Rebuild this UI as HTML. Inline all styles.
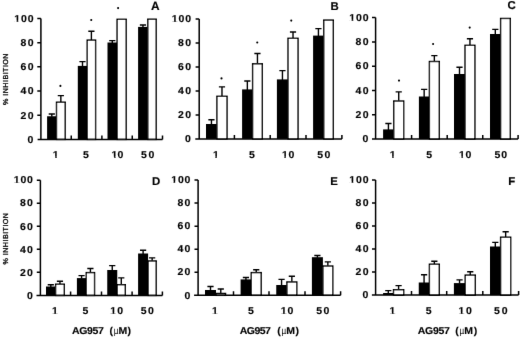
<!DOCTYPE html><html><head><meta charset="utf-8"><title>AG957 inhibition</title><style>html,body{margin:0;padding:0;background:#fff}svg{display:block}</style></head><body><svg width="520" height="338" viewBox="0 0 520 338">
<defs><filter id="soft" x="0" y="0" width="520" height="338" filterUnits="userSpaceOnUse"><feConvolveMatrix order="3" kernelMatrix="0 1 0 1 14 1 0 1 0" divisor="18" edgeMode="duplicate" preserveAlpha="false"/></filter><filter id="soft2" x="0" y="0" width="520" height="338" filterUnits="userSpaceOnUse"><feConvolveMatrix order="3" kernelMatrix="0 1 0 1 12 1 0 1 0" divisor="16" edgeMode="duplicate" preserveAlpha="false"/></filter></defs>
<rect width="520" height="338" fill="#fff"/>
<g filter="url(#soft)" fill="#000" stroke="none">
<g><rect x="47.1" y="116.25" width="9.4" height="23.15" fill="#000"/><path d="M51.8 116.75V114M48.7 114H54.9" stroke="#000" stroke-width="1.4" fill="none"/><rect x="56.5" y="102.2" width="8.7" height="37.2" fill="#fff" stroke="#000" stroke-width="1.4"/><path d="M60.85 102V95.6M57.75 95.6H63.95" stroke="#000" stroke-width="1.4" fill="none"/><rect x="77.8" y="65.9" width="9.4" height="73.5" fill="#000"/><path d="M82.5 66.4V61.6M79.4 61.6H85.6" stroke="#000" stroke-width="1.4" fill="none"/><rect x="87.2" y="40.1" width="8.4" height="99.3" fill="#fff" stroke="#000" stroke-width="1.4"/><path d="M91.4 39.9V31.25M88.3 31.25H94.5" stroke="#000" stroke-width="1.4" fill="none"/><rect x="107.5" y="42.5" width="9.6" height="96.9" fill="#000"/><path d="M112.3 43V40.6M109.2 40.6H115.4" stroke="#000" stroke-width="1.4" fill="none"/><rect x="117.1" y="19.3" width="9.1" height="120.1" fill="#fff" stroke="#000" stroke-width="1.4"/><rect x="138.1" y="26.9" width="9.7" height="112.5" fill="#000"/><path d="M142.95 27.4V25M139.85 25H146.05" stroke="#000" stroke-width="1.4" fill="none"/><rect x="147.8" y="19.2" width="8.4" height="120.2" fill="#fff" stroke="#000" stroke-width="1.4"/><path d="M40.9 18.5V139.4M37.6 139.4H162.5M37.3 18.5H40.9M37.3 42.68H40.9M37.3 66.86H40.9M37.3 91.04H40.9M37.3 115.22H40.9M71.25 139.4V135.4M101.9 139.4V135.4M132.25 139.4V135.4M162.5 139.4V135.4" stroke="#000" stroke-width="1.5" fill="none"/><circle cx="60.4" cy="85.9" r="1.05"/><circle cx="91.25" cy="20" r="1.05"/><circle cx="118.1" cy="8.1" r="1.05"/></g>
<g><rect x="206" y="124" width="10.9" height="14.9" fill="#000"/><path d="M211.45 124.5V119.75M208.35 119.75H214.55" stroke="#000" stroke-width="1.4" fill="none"/><rect x="216.9" y="96.3" width="10.15" height="42.6" fill="#fff" stroke="#000" stroke-width="1.4"/><path d="M221.98 96.1V86.9M218.88 86.9H225.08" stroke="#000" stroke-width="1.4" fill="none"/><rect x="242.1" y="89.4" width="10.5" height="49.5" fill="#000"/><path d="M247.35 89.9V81M244.25 81H250.45" stroke="#000" stroke-width="1.4" fill="none"/><rect x="252.6" y="63.8" width="9.7" height="75.1" fill="#fff" stroke="#000" stroke-width="1.4"/><path d="M257.45 63.6V53.5M254.35 53.5H260.55" stroke="#000" stroke-width="1.4" fill="none"/><rect x="276.9" y="79.4" width="11.1" height="59.5" fill="#000"/><path d="M282.45 79.9V70.6M279.35 70.6H285.55" stroke="#000" stroke-width="1.4" fill="none"/><rect x="288" y="38.3" width="10.05" height="100.6" fill="#fff" stroke="#000" stroke-width="1.4"/><path d="M293.02 38.1V32M289.92 32H296.12" stroke="#000" stroke-width="1.4" fill="none"/><rect x="313.1" y="35.6" width="10.65" height="103.3" fill="#000"/><path d="M318.43 36.1V28.6M315.32 28.6H321.53" stroke="#000" stroke-width="1.4" fill="none"/><rect x="323.75" y="20.1" width="9.55" height="118.8" fill="#fff" stroke="#000" stroke-width="1.4"/><path d="M199.2 19V138.9M195.3 138.9H341.9M195.6 19H199.2M195.6 42.98H199.2M195.6 66.96H199.2M195.6 90.94H199.2M195.6 114.92H199.2M234.4 138.9V134.9M270.2 138.9V134.9M306 138.9V134.9M341.9 138.9V134.9" stroke="#000" stroke-width="1.5" fill="none"/><circle cx="221.5" cy="78.4" r="1.05"/><circle cx="257.25" cy="42.5" r="1.05"/><circle cx="291.25" cy="20.6" r="1.05"/></g>
<g><rect x="383.1" y="129.4" width="10.65" height="9.6" fill="#000"/><path d="M388.43 129.9V123.5M385.32 123.5H391.53" stroke="#000" stroke-width="1.4" fill="none"/><rect x="393.75" y="101" width="9.95" height="38" fill="#fff" stroke="#000" stroke-width="1.4"/><path d="M398.73 100.8V91.9M395.62 91.9H401.83" stroke="#000" stroke-width="1.4" fill="none"/><rect x="418.9" y="96.5" width="10.5" height="42.5" fill="#000"/><path d="M424.15 97V89.4M421.05 89.4H427.25" stroke="#000" stroke-width="1.4" fill="none"/><rect x="429.4" y="61.5" width="9.9" height="77.5" fill="#fff" stroke="#000" stroke-width="1.4"/><path d="M434.35 61.3V55.6M431.25 55.6H437.45" stroke="#000" stroke-width="1.4" fill="none"/><rect x="454" y="74" width="11" height="65" fill="#000"/><path d="M459.5 74.5V67.25M456.4 67.25H462.6" stroke="#000" stroke-width="1.4" fill="none"/><rect x="465" y="45.3" width="9.9" height="93.7" fill="#fff" stroke="#000" stroke-width="1.4"/><path d="M469.95 45.1V38.75M466.85 38.75H473.05" stroke="#000" stroke-width="1.4" fill="none"/><rect x="490" y="34" width="10.6" height="105" fill="#000"/><path d="M495.3 34.5V29.4M492.2 29.4H498.4" stroke="#000" stroke-width="1.4" fill="none"/><rect x="500.6" y="18.45" width="9.7" height="120.55" fill="#fff" stroke="#000" stroke-width="1.4"/><path d="M375.6 17.6V139M372 139H518.1M372 17.6H375.6M372 41.88H375.6M372 66.16H375.6M372 90.44H375.6M372 114.72H375.6M411.6 139V135M447.2 139V135M482.75 139V135M518.1 139V135" stroke="#000" stroke-width="1.5" fill="none"/><circle cx="399" cy="80.6" r="1.05"/><circle cx="433.1" cy="44" r="1.05"/><circle cx="469.7" cy="27.6" r="1.05"/></g>
<g><rect x="46" y="286.5" width="9.6" height="8.9" fill="#000"/><path d="M50.8 287V284.75M47.7 284.75H53.9" stroke="#000" stroke-width="1.4" fill="none"/><rect x="55.6" y="284.2" width="8.7" height="11.2" fill="#fff" stroke="#000" stroke-width="1.4"/><path d="M59.95 284V281.25M56.85 281.25H63.05" stroke="#000" stroke-width="1.4" fill="none"/><rect x="76.9" y="278.1" width="9.35" height="17.3" fill="#000"/><path d="M81.58 278.6V275.6M78.48 275.6H84.67" stroke="#000" stroke-width="1.4" fill="none"/><rect x="86.25" y="272.6" width="8.3" height="22.8" fill="#fff" stroke="#000" stroke-width="1.4"/><path d="M90.4 272.4V268.5M87.3 268.5H93.5" stroke="#000" stroke-width="1.4" fill="none"/><rect x="107.25" y="270" width="10" height="25.4" fill="#000"/><path d="M112.25 270.5V265.6M109.15 265.6H115.35" stroke="#000" stroke-width="1.4" fill="none"/><rect x="117.25" y="284.7" width="8.05" height="10.7" fill="#fff" stroke="#000" stroke-width="1.4"/><path d="M121.28 284.5V277.9M118.18 277.9H124.38" stroke="#000" stroke-width="1.4" fill="none"/><rect x="138.1" y="253.5" width="10" height="41.9" fill="#000"/><path d="M143.1 254V250.25M140 250.25H146.2" stroke="#000" stroke-width="1.4" fill="none"/><rect x="148.1" y="260.95" width="8.1" height="34.45" fill="#fff" stroke="#000" stroke-width="1.4"/><path d="M152.15 260.75V257.9M149.05 257.9H155.25" stroke="#000" stroke-width="1.4" fill="none"/><path d="M40.4 180.25V295.4M36.5 295.4H162.4M36.8 180.25H40.4M36.8 203.28H40.4M36.8 226.31H40.4M36.8 249.34H40.4M36.8 272.37H40.4M70.6 295.4V291.4M101.5 295.4V291.4M132.1 295.4V291.4M162.4 295.4V291.4" stroke="#000" stroke-width="1.5" fill="none"/></g>
<g><rect x="205" y="290" width="11" height="5.35" fill="#000"/><path d="M210.5 290.5V286.5M207.4 286.5H213.6" stroke="#000" stroke-width="1.4" fill="none"/><rect x="216" y="293.45" width="9.55" height="1.9" fill="#fff" stroke="#000" stroke-width="1.4"/><path d="M220.78 293.25V289M217.68 289H223.88" stroke="#000" stroke-width="1.4" fill="none"/><rect x="240.6" y="279.4" width="10.65" height="15.95" fill="#000"/><path d="M245.93 279.9V277.5M242.83 277.5H249.03" stroke="#000" stroke-width="1.4" fill="none"/><rect x="251.25" y="272.6" width="9.95" height="22.75" fill="#fff" stroke="#000" stroke-width="1.4"/><path d="M256.23 272.4V269.75M253.13 269.75H259.33" stroke="#000" stroke-width="1.4" fill="none"/><rect x="276.25" y="285" width="10.65" height="10.35" fill="#000"/><path d="M281.57 285.5V279.4M278.47 279.4H284.68" stroke="#000" stroke-width="1.4" fill="none"/><rect x="286.9" y="281.95" width="9.9" height="13.4" fill="#fff" stroke="#000" stroke-width="1.4"/><path d="M291.85 281.75V276.25M288.75 276.25H294.95" stroke="#000" stroke-width="1.4" fill="none"/><rect x="311.9" y="257.2" width="11" height="38.15" fill="#000"/><path d="M317.4 257.7V255.5M314.3 255.5H320.5" stroke="#000" stroke-width="1.4" fill="none"/><rect x="322.9" y="266" width="9.9" height="29.35" fill="#fff" stroke="#000" stroke-width="1.4"/><path d="M327.85 265.8V261.9M324.75 261.9H330.95" stroke="#000" stroke-width="1.4" fill="none"/><path d="M198.1 180V295.35M194.1 295.35H340.6M194.5 180H198.1M194.5 203.07H198.1M194.5 226.14H198.1M194.5 249.21H198.1M194.5 272.28H198.1M233.5 295.35V291.35M269 295.35V291.35M305 295.35V291.35M340.6 295.35V291.35" stroke="#000" stroke-width="1.5" fill="none"/></g>
<g><rect x="383.1" y="293" width="10.4" height="2.1" fill="#000"/><path d="M388.3 293.5V290.6M385.2 290.6H391.4" stroke="#000" stroke-width="1.4" fill="none"/><rect x="393.5" y="289.7" width="10.2" height="5.4" fill="#fff" stroke="#000" stroke-width="1.4"/><path d="M398.6 289.5V285.6M395.5 285.6H401.7" stroke="#000" stroke-width="1.4" fill="none"/><rect x="418.75" y="282.5" width="10.65" height="12.6" fill="#000"/><path d="M424.07 283V274.75M420.97 274.75H427.18" stroke="#000" stroke-width="1.4" fill="none"/><rect x="429.4" y="264.2" width="9.9" height="30.9" fill="#fff" stroke="#000" stroke-width="1.4"/><path d="M434.35 264V261.25M431.25 261.25H437.45" stroke="#000" stroke-width="1.4" fill="none"/><rect x="453.9" y="283.1" width="11.3" height="12" fill="#000"/><path d="M459.55 283.6V279.9M456.45 279.9H462.65" stroke="#000" stroke-width="1.4" fill="none"/><rect x="465.2" y="275.1" width="10.1" height="20" fill="#fff" stroke="#000" stroke-width="1.4"/><path d="M470.25 274.9V271.8M467.15 271.8H473.35" stroke="#000" stroke-width="1.4" fill="none"/><rect x="490" y="246.5" width="10.6" height="48.6" fill="#000"/><path d="M495.3 247V242.4M492.2 242.4H498.4" stroke="#000" stroke-width="1.4" fill="none"/><rect x="500.6" y="237.2" width="10.1" height="57.9" fill="#fff" stroke="#000" stroke-width="1.4"/><path d="M505.65 237V231.75M502.55 231.75H508.75" stroke="#000" stroke-width="1.4" fill="none"/><path d="M375.6 180V295.1M371.9 295.1H518.6M372 180H375.6M372 203.02H375.6M372 226.04H375.6M372 249.06H375.6M372 272.08H375.6M411.5 295.1V291.1M446.7 295.1V291.1M482.8 295.1V291.1M518.6 295.1V291.1" stroke="#000" stroke-width="1.5" fill="none"/></g>
</g>
<g filter="url(#soft2)" text-rendering="geometricPrecision" font-family='"Liberation Sans", Arial, Helvetica, sans-serif' font-weight="bold" fill="#000" stroke="none">
<g><g transform="translate(14.3 21.8) scale(1.05 1)"><text font-size="10" letter-spacing="0.8" stroke="#000" stroke-width="0.14">100</text><path fill="#fff" stroke="none" d="M0.05 -1.13H2.26V0.6H0.05zM3.78 -1.13H5.95V0.6H3.78z"/></g><g transform="translate(20.5 45.98) scale(1.05 1)"><text font-size="10" letter-spacing="1.26" stroke="#000" stroke-width="0.14">80</text></g><g transform="translate(20.5 70.16) scale(1.05 1)"><text font-size="10" letter-spacing="1.26" stroke="#000" stroke-width="0.14">60</text></g><g transform="translate(20.5 94.34) scale(1.05 1)"><text font-size="10" letter-spacing="1.26" stroke="#000" stroke-width="0.14">40</text></g><g transform="translate(20.5 118.52) scale(1.05 1)"><text font-size="10" letter-spacing="1.26" stroke="#000" stroke-width="0.14">20</text></g><g transform="translate(30.4 142.7) scale(1.05 1)"><text font-size="10" text-anchor="middle" stroke="#000" stroke-width="0.14">0</text></g><g transform="translate(55.75 158) scale(1.05 1)"><text font-size="10" text-anchor="middle" stroke="#000" stroke-width="0.14">1</text><path fill="#fff" stroke="none" d="M-2.73 -1.13H-0.52V0.6H-2.73zM1 -1.13H3.17V0.6H1z"/></g><g transform="translate(85.95 158) scale(1.05 1)"><text font-size="10" text-anchor="middle" stroke="#000" stroke-width="0.14">5</text></g><g transform="translate(111.6 158) scale(1.05 1)"><text font-size="10" letter-spacing="0.12" stroke="#000" stroke-width="0.14">10</text><path fill="#fff" stroke="none" d="M0.05 -1.13H2.26V0.6H0.05zM3.78 -1.13H5.95V0.6H3.78z"/></g><g transform="translate(140.95 158) scale(1.05 1)"><text font-size="10" letter-spacing="1.59" stroke="#000" stroke-width="0.14">50</text></g><text x="150.9" y="9.6" font-size="11.9" stroke="#000" stroke-width="0.15">A</text></g>
<g><g transform="translate(171.8 22.3) scale(1.05 1)"><text font-size="10" letter-spacing="0.8" stroke="#000" stroke-width="0.14">100</text><path fill="#fff" stroke="none" d="M0.05 -1.13H2.26V0.6H0.05zM3.78 -1.13H5.95V0.6H3.78z"/></g><g transform="translate(178 46.28) scale(1.05 1)"><text font-size="10" letter-spacing="1.26" stroke="#000" stroke-width="0.14">80</text></g><g transform="translate(178 70.26) scale(1.05 1)"><text font-size="10" letter-spacing="1.26" stroke="#000" stroke-width="0.14">60</text></g><g transform="translate(178 94.24) scale(1.05 1)"><text font-size="10" letter-spacing="1.26" stroke="#000" stroke-width="0.14">40</text></g><g transform="translate(178 118.22) scale(1.05 1)"><text font-size="10" letter-spacing="1.26" stroke="#000" stroke-width="0.14">20</text></g><g transform="translate(187.9 142.2) scale(1.05 1)"><text font-size="10" text-anchor="middle" stroke="#000" stroke-width="0.14">0</text></g><g transform="translate(215.85 157.8) scale(1.05 1)"><text font-size="10" text-anchor="middle" stroke="#000" stroke-width="0.14">1</text><path fill="#fff" stroke="none" d="M-2.73 -1.13H-0.52V0.6H-2.73zM1 -1.13H3.17V0.6H1z"/></g><g transform="translate(251.85 157.8) scale(1.05 1)"><text font-size="10" text-anchor="middle" stroke="#000" stroke-width="0.14">5</text></g><g transform="translate(281.95 157.8) scale(1.05 1)"><text font-size="10" letter-spacing="0.64" stroke="#000" stroke-width="0.14">10</text><path fill="#fff" stroke="none" d="M0.05 -1.13H2.26V0.6H0.05zM3.78 -1.13H5.95V0.6H3.78z"/></g><g transform="translate(317.2 157.8) scale(1.05 1)"><text font-size="10" letter-spacing="1.36" stroke="#000" stroke-width="0.14">50</text></g><text x="330.5" y="9.75" font-size="11.4" stroke="#000" stroke-width="0.15">B</text></g>
<g><g transform="translate(349.3 20.9) scale(1.05 1)"><text font-size="10" letter-spacing="0.8" stroke="#000" stroke-width="0.14">100</text><path fill="#fff" stroke="none" d="M0.05 -1.13H2.26V0.6H0.05zM3.78 -1.13H5.95V0.6H3.78z"/></g><g transform="translate(355.5 45.18) scale(1.05 1)"><text font-size="10" letter-spacing="1.26" stroke="#000" stroke-width="0.14">80</text></g><g transform="translate(355.5 69.46) scale(1.05 1)"><text font-size="10" letter-spacing="1.26" stroke="#000" stroke-width="0.14">60</text></g><g transform="translate(355.5 93.74) scale(1.05 1)"><text font-size="10" letter-spacing="1.26" stroke="#000" stroke-width="0.14">40</text></g><g transform="translate(355.5 118.02) scale(1.05 1)"><text font-size="10" letter-spacing="1.26" stroke="#000" stroke-width="0.14">20</text></g><g transform="translate(365.4 142.3) scale(1.05 1)"><text font-size="10" text-anchor="middle" stroke="#000" stroke-width="0.14">0</text></g><g transform="translate(392.65 157.8) scale(1.05 1)"><text font-size="10" text-anchor="middle" stroke="#000" stroke-width="0.14">1</text><path fill="#fff" stroke="none" d="M-2.73 -1.13H-0.52V0.6H-2.73zM1 -1.13H3.17V0.6H1z"/></g><g transform="translate(429.05 157.8) scale(1.05 1)"><text font-size="10" text-anchor="middle" stroke="#000" stroke-width="0.14">5</text></g><g transform="translate(459.1 157.8) scale(1.05 1)"><text font-size="10" letter-spacing="0.5" stroke="#000" stroke-width="0.14">10</text><path fill="#fff" stroke="none" d="M0.05 -1.13H2.26V0.6H0.05zM3.78 -1.13H5.95V0.6H3.78z"/></g><g transform="translate(494.45 157.8) scale(1.05 1)"><text font-size="10" letter-spacing="1.02" stroke="#000" stroke-width="0.14">50</text></g><text x="507.4" y="9.2" font-size="11.4" stroke="#000" stroke-width="0.15">C</text></g>
<g><g transform="translate(13.7 183.45) scale(1.05 1)"><text font-size="10" letter-spacing="0.8" stroke="#000" stroke-width="0.14">100</text><path fill="#fff" stroke="none" d="M0.05 -1.13H2.26V0.6H0.05zM3.78 -1.13H5.95V0.6H3.78z"/></g><g transform="translate(19.9 206.48) scale(1.05 1)"><text font-size="10" letter-spacing="1.26" stroke="#000" stroke-width="0.14">80</text></g><g transform="translate(19.9 229.51) scale(1.05 1)"><text font-size="10" letter-spacing="1.26" stroke="#000" stroke-width="0.14">60</text></g><g transform="translate(19.9 252.54) scale(1.05 1)"><text font-size="10" letter-spacing="1.26" stroke="#000" stroke-width="0.14">40</text></g><g transform="translate(19.9 275.57) scale(1.05 1)"><text font-size="10" letter-spacing="1.26" stroke="#000" stroke-width="0.14">20</text></g><g transform="translate(29.8 298.6) scale(1.05 1)"><text font-size="10" text-anchor="middle" stroke="#000" stroke-width="0.14">0</text></g><g transform="translate(54.9 314.3) scale(1.05 1)"><text font-size="10" text-anchor="middle" stroke="#000" stroke-width="0.14">1</text><path fill="#fff" stroke="none" d="M-2.73 -1.13H-0.52V0.6H-2.73zM1 -1.13H3.17V0.6H1z"/></g><g transform="translate(85.42 314.3) scale(1.05 1)"><text font-size="10" text-anchor="middle" stroke="#000" stroke-width="0.14">5</text></g><g transform="translate(110.3 314.3) scale(1.05 1)"><text font-size="10" letter-spacing="1.02" stroke="#000" stroke-width="0.14">10</text><path fill="#fff" stroke="none" d="M0.05 -1.13H2.26V0.6H0.05zM3.78 -1.13H5.95V0.6H3.78z"/></g><g transform="translate(140.7 314.3) scale(1.05 1)"><text font-size="10" letter-spacing="1.36" stroke="#000" stroke-width="0.14">50</text></g><text x="151.9" y="185.2" font-size="11.4" stroke="#000" stroke-width="0.15">D</text><g transform="translate(71.95 333.55) scale(1.05 1)"><text font-size="10" stroke="#000" stroke-width="0.14"><tspan letter-spacing="-0.34">AG957</tspan> <tspan x="35.86">(</tspan><tspan x="39.76" font-weight="normal" stroke="none" textLength="4.48" lengthAdjust="spacingAndGlyphs">µ</tspan><tspan x="44.33">M</tspan><tspan x="52.9">)</tspan></text></g></g>
<g><g transform="translate(171.2 183.2) scale(1.05 1)"><text font-size="10" letter-spacing="0.8" stroke="#000" stroke-width="0.14">100</text><path fill="#fff" stroke="none" d="M0.05 -1.13H2.26V0.6H0.05zM3.78 -1.13H5.95V0.6H3.78z"/></g><g transform="translate(177.4 206.27) scale(1.05 1)"><text font-size="10" letter-spacing="1.26" stroke="#000" stroke-width="0.14">80</text></g><g transform="translate(177.4 229.34) scale(1.05 1)"><text font-size="10" letter-spacing="1.26" stroke="#000" stroke-width="0.14">60</text></g><g transform="translate(177.4 252.41) scale(1.05 1)"><text font-size="10" letter-spacing="1.26" stroke="#000" stroke-width="0.14">40</text></g><g transform="translate(177.4 275.48) scale(1.05 1)"><text font-size="10" letter-spacing="1.26" stroke="#000" stroke-width="0.14">20</text></g><g transform="translate(187.3 298.55) scale(1.05 1)"><text font-size="10" text-anchor="middle" stroke="#000" stroke-width="0.14">0</text></g><g transform="translate(215 314.3) scale(1.05 1)"><text font-size="10" text-anchor="middle" stroke="#000" stroke-width="0.14">1</text><path fill="#fff" stroke="none" d="M-2.73 -1.13H-0.52V0.6H-2.73zM1 -1.13H3.17V0.6H1z"/></g><g transform="translate(250.8 314.3) scale(1.05 1)"><text font-size="10" text-anchor="middle" stroke="#000" stroke-width="0.14">5</text></g><g transform="translate(280.7 314.3) scale(1.05 1)"><text font-size="10" letter-spacing="0.98" stroke="#000" stroke-width="0.14">10</text><path fill="#fff" stroke="none" d="M0.05 -1.13H2.26V0.6H0.05zM3.78 -1.13H5.95V0.6H3.78z"/></g><g transform="translate(316.2 314.3) scale(1.05 1)"><text font-size="10" letter-spacing="1.36" stroke="#000" stroke-width="0.14">50</text></g><text x="330.3" y="185.1" font-size="11.4" stroke="#000" stroke-width="0.15">E</text><g transform="translate(239.7 333.55) scale(1.05 1)"><text font-size="10" stroke="#000" stroke-width="0.14"><tspan letter-spacing="-0.49">AG957</tspan> <tspan x="35.86">(</tspan><tspan x="39.76" font-weight="normal" stroke="none" textLength="4.48" lengthAdjust="spacingAndGlyphs">µ</tspan><tspan x="44.33">M</tspan><tspan x="53.05">)</tspan></text></g></g>
<g><g transform="translate(349.3 183.2) scale(1.05 1)"><text font-size="10" letter-spacing="0.8" stroke="#000" stroke-width="0.14">100</text><path fill="#fff" stroke="none" d="M0.05 -1.13H2.26V0.6H0.05zM3.78 -1.13H5.95V0.6H3.78z"/></g><g transform="translate(355.5 206.22) scale(1.05 1)"><text font-size="10" letter-spacing="1.26" stroke="#000" stroke-width="0.14">80</text></g><g transform="translate(355.5 229.24) scale(1.05 1)"><text font-size="10" letter-spacing="1.26" stroke="#000" stroke-width="0.14">60</text></g><g transform="translate(355.5 252.26) scale(1.05 1)"><text font-size="10" letter-spacing="1.26" stroke="#000" stroke-width="0.14">40</text></g><g transform="translate(355.5 275.28) scale(1.05 1)"><text font-size="10" letter-spacing="1.26" stroke="#000" stroke-width="0.14">20</text></g><g transform="translate(365.4 298.3) scale(1.05 1)"><text font-size="10" text-anchor="middle" stroke="#000" stroke-width="0.14">0</text></g><g transform="translate(392.5 314.3) scale(1.05 1)"><text font-size="10" text-anchor="middle" stroke="#000" stroke-width="0.14">1</text><path fill="#fff" stroke="none" d="M-2.73 -1.13H-0.52V0.6H-2.73zM1 -1.13H3.17V0.6H1z"/></g><g transform="translate(428.75 314.3) scale(1.05 1)"><text font-size="10" text-anchor="middle" stroke="#000" stroke-width="0.14">5</text></g><g transform="translate(458.5 314.3) scale(1.05 1)"><text font-size="10" letter-spacing="1.55" stroke="#000" stroke-width="0.14">10</text><path fill="#fff" stroke="none" d="M0.05 -1.13H2.26V0.6H0.05zM3.78 -1.13H5.95V0.6H3.78z"/></g><g transform="translate(493.9 314.3) scale(1.05 1)"><text font-size="10" letter-spacing="1.83" stroke="#000" stroke-width="0.14">50</text></g><text x="508.2" y="185.3" font-size="11.4" stroke="#000" stroke-width="0.15">F</text><g transform="translate(417.8 333.55) scale(1.05 1)"><text font-size="10" stroke="#000" stroke-width="0.14"><tspan letter-spacing="-0.3">AG957</tspan> <tspan x="35.71">(</tspan><tspan x="39.62" font-weight="normal" stroke="none" textLength="4.48" lengthAdjust="spacingAndGlyphs">µ</tspan><tspan x="44.19">M</tspan><tspan x="53.33">)</tspan></text></g></g>
<text transform="translate(7.6 79.0) rotate(-90)" font-size="7.2" font-weight="normal" text-anchor="middle" letter-spacing="0.43" stroke="#000" stroke-width="0.3">% INHIBITION</text>
<text transform="translate(7.6 238.5) rotate(-90)" font-size="7.2" font-weight="normal" text-anchor="middle" letter-spacing="0.43" stroke="#000" stroke-width="0.3">% INHIBITION</text>
</g></svg></body></html>
